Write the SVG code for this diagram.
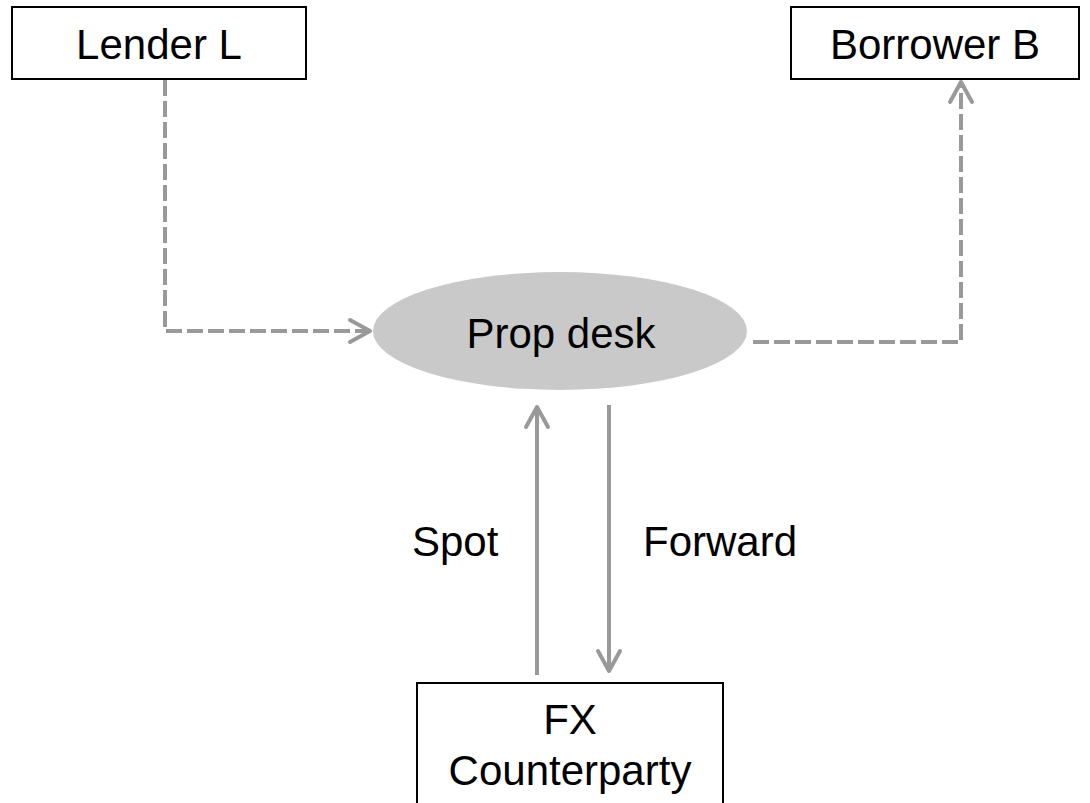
<svg xmlns="http://www.w3.org/2000/svg" width="1090" height="803" viewBox="0 0 1090 803">
  <style>
    .box { fill: #ffffff; stroke: #000000; stroke-width: 2; }
    .label { font-family: "Liberation Sans", Arial, sans-serif; font-size: 42px; fill: #000000; }
    .mid { text-anchor: middle; }
    .link { fill: none; stroke: #999999; stroke-width: 4; }
    .dash { stroke-dasharray: 16 5; }
    .head { fill: none; stroke: #999999; stroke-width: 4; stroke-linecap: round; stroke-linejoin: round; }
  </style>
  <defs>
    <marker id="chevron" viewBox="-24 -14 28 28" markerWidth="28" markerHeight="28" refX="0" refY="0" orient="auto" markerUnits="userSpaceOnUse">
      <path class="head" d="M-20,-11 L0,0 L-20,11"/>
    </marker>
  </defs>

  <rect width="1090" height="803" fill="#ffffff"/>

  <!-- connectors -->
  <g id="connectors">
    <!-- lender to desk -->
    <path class="link dash" d="M165,80 V331 H370" marker-end="url(#chevron)"/>
    <!-- desk to borrower -->
    <path class="link dash" d="M753,342 H961 V82" marker-end="url(#chevron)"/>
    <!-- spot leg, counterparty up to desk -->
    <path class="link" d="M537,675 V407" marker-end="url(#chevron)"/>
    <!-- forward leg, desk down to counterparty -->
    <path class="link" d="M609,405 V671" marker-end="url(#chevron)"/>
    <text class="label" x="412" y="556">Spot</text>
    <text class="label" x="643" y="556">Forward</text>
  </g>

  <g id="lender">
    <rect class="box" x="12" y="7" width="294" height="72"/>
    <text class="label mid" x="159" y="59">Lender L</text>
  </g>

  <g id="borrower">
    <rect class="box" x="791" y="7" width="288" height="72"/>
    <text class="label mid" x="935" y="59">Borrower B</text>
  </g>

  <g id="prop-desk">
    <ellipse cx="560" cy="331" rx="187" ry="59" fill="#c9c9c9"/>
    <text class="label mid" x="561" y="348">Prop desk</text>
  </g>

  <g id="fx-counterparty">
    <rect class="box" x="417" y="683" width="306" height="140"/>
    <text class="label mid" x="570" y="734">FX</text>
    <text class="label mid" x="570" y="785">Counterparty</text>
  </g>
</svg>
